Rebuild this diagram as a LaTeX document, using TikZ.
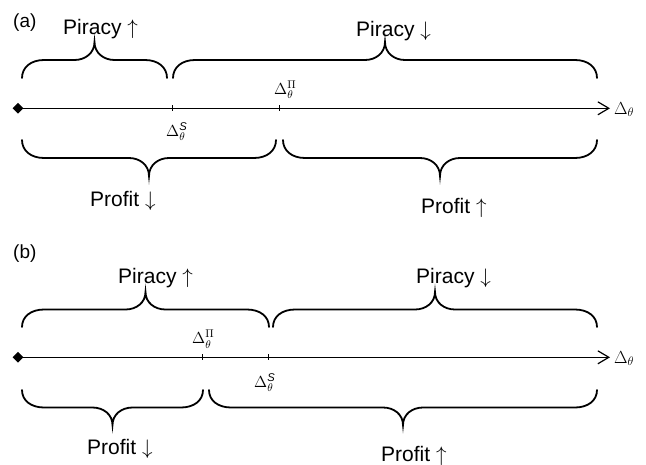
\RequirePackage{fix-cm}
\documentclass[tikz,border=0pt]{standalone}
\usepackage{amsmath}
\usepackage{fontspec}
\setmainfont{Liberation Sans}
\usetikzlibrary{arrows.meta,shapes.geometric}
\tikzset{
  brc/.style={line width=1.8pt, line cap=round},
  axisline/.style={line width=1.2pt, -{Straight Barb[length=11pt,width=13pt,line width=1.2pt]}},
  lbl/.style={font=\fontsize{21}{24}\selectfont, inner sep=0pt, anchor=base west},
  plbl/.style={font=\fontsize{19}{22}\selectfont, inner sep=0pt, anchor=base west},
  mlbl/.style={font=\fontsize{17.5}{20}\selectfont, inner sep=0pt, anchor=base west},
  tlbl/.style={font=\fontsize{16}{19}\selectfont, inner sep=0pt, anchor=base west},
  origin/.style={diamond, fill, inner sep=0pt, minimum width=11pt, minimum height=11pt},
  tickmark/.style={line width=0.9pt},
}
% #1 x1, #2 x2, #3 tip x, #4 y of ends, #5 signed half height
\newcommand{\hbr}[5]{%
  \draw[brc] (#1,#4) .. controls (#1,#4+0.6*#5) and (#1+9,#4+#5) .. (#1+22,#4+#5)
    -- (#3-20,#4+#5) .. controls (#3-9,#4+#5) and (#3,#4+1.4*#5) .. (#3,#4+2*#5)
    .. controls (#3,#4+1.4*#5) and (#3+9,#4+#5) .. (#3+20,#4+#5)
    -- (#2-22,#4+#5) .. controls (#2-9,#4+#5) and (#2,#4+0.6*#5) .. (#2,#4);}
\begin{document}
\begin{tikzpicture}[x=1pt,y=-1pt]
\useasboundingbox (0,0) rectangle (646,464);
% ---------- panel (a) ----------
\node[plbl] (la) at (13,27) {(a)};
\node[origin] (oa) at (18,108.3) {};
\coordinate (ea) at (610,108.3);
\draw[axisline] (oa.center) -- (ea);
\coordinate (aS) at (172,108.3);
\coordinate (aP) at (279,108.3);
\draw[tickmark] ([yshift=3pt]aS) -- ([yshift=-3pt]aS);
\draw[tickmark] ([yshift=3pt]aP) -- ([yshift=-3pt]aP);
\node[mlbl] (da) at (614,114) {$\Delta_\theta$};
\node[tlbl] (daP) at (274,94) {$\Delta_\theta^{\Pi}$};
\node[tlbl] (daS) at (166,136) {$\Delta_\theta^{\textit{S}}$};
\hbr{22}{167}{94.5}{78}{-18}
\hbr{173}{597}{385}{78}{-18}
\hbr{22}{276}{149}{140}{18}
\hbr{283}{597}{440}{140}{18}
\node[lbl] (pa1) at (63,34) {Piracy $\uparrow$};
\node[lbl] (pa2) at (356,36) {Piracy $\downarrow$};
\node[lbl] (fa1) at (90,206) {Profit $\downarrow$};
\node[lbl] (fa2) at (421,213) {Profit $\uparrow$};
% ---------- panel (b) ----------
\node[plbl] (lb) at (13,258) {(b)};
\node[origin] (ob) at (18,357.3) {};
\coordinate (eb) at (610,357.3);
\draw[axisline] (ob.center) -- (eb);
\coordinate (bP) at (202,357.3);
\coordinate (bS) at (268,357.3);
\draw[tickmark] ([yshift=3pt]bP) -- ([yshift=-3pt]bP);
\draw[tickmark] ([yshift=3pt]bS) -- ([yshift=-3pt]bS);
\node[mlbl] (db) at (614,363) {$\Delta_\theta$};
\node[tlbl] (dbP) at (192,343.5) {$\Delta_\theta^{\Pi}$};
\node[tlbl] (dbS) at (254,387) {$\Delta_\theta^{\textit{S}}$};
\hbr{22}{269}{145.5}{327}{-17.5}
\hbr{273}{597}{435}{327}{-17.5}
\hbr{22}{203}{112.5}{390}{17.5}
\hbr{209}{597}{403}{390}{17.5}
\node[lbl] (pb1) at (118,283) {Piracy $\uparrow$};
\node[lbl] (pb2) at (416,283) {Piracy $\downarrow$};
\node[lbl] (fb1) at (87,454) {Profit $\downarrow$};
\node[lbl] (fb2) at (381,461) {Profit $\uparrow$};
\end{tikzpicture}
\end{document}
